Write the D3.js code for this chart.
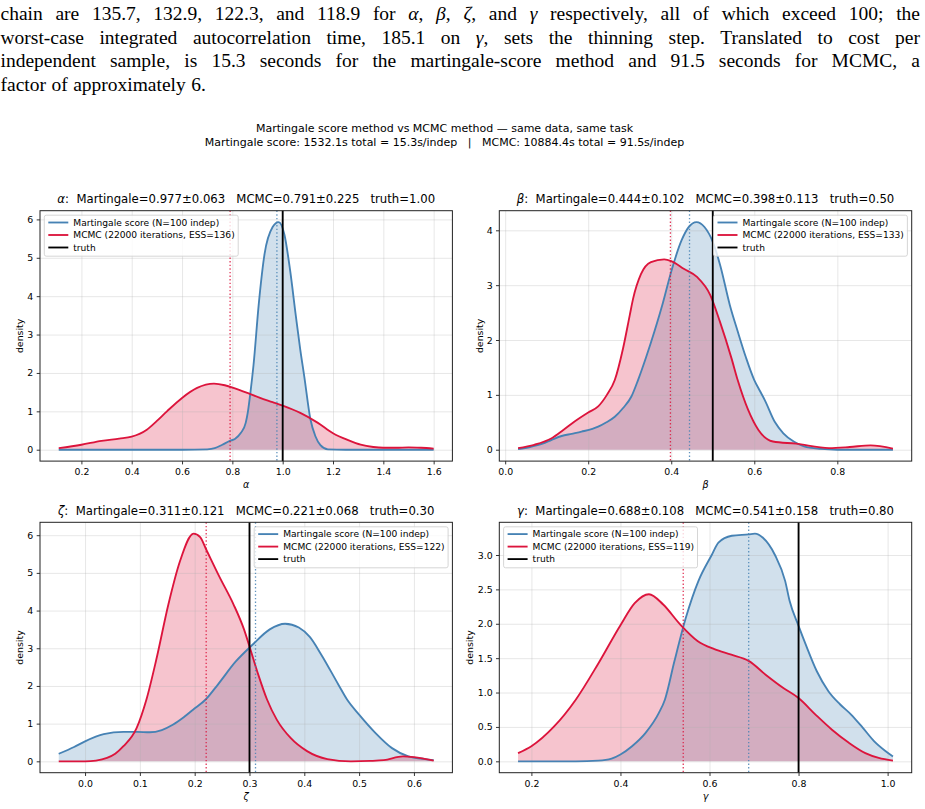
<!DOCTYPE html>
<html>
<head>
<meta charset="utf-8">
<script src="https://cdn.jsdelivr.net/npm/d3@7/dist/d3.min.js"></script>
<style>
body { margin: 0; background: #fff; }
svg text { font-family: "DejaVu Sans", sans-serif; fill: #000; white-space: pre; }
.para text { font-family: "Liberation Serif", serif; }
</style>
</head>
<body>
<div id="chart"></div>
<script>
// text of the paragraph above the figure
var paraLines = [
    "chain are 135.7, 132.9, 122.3, and 118.9 for α, β, ζ, and γ respectively, all of which exceed 100; the",
    "worst-case integrated autocorrelation time, 185.1 on γ, sets the thinning step. Translated to cost per",
    "independent sample, is 15.3 seconds for the martingale-score method and 91.5 seconds for MCMC, a",
    "factor of approximately 6."
];

var supTitle = [
    "Martingale score method vs MCMC method — same data, same task",
    "Martingale score: 1532.1s total = 15.3s/indep   |   MCMC: 10884.4s total = 91.5s/indep"
];

// per-parameter summary values
var paramNames = ["α", "β", "ζ", "γ"];
var martMean = [0.977, 0.444, 0.311, 0.688];
var martSd = [0.063, 0.102, 0.121, 0.108];
var mcmcMean = [0.791, 0.398, 0.221, 0.541];
var mcmcSd = [0.225, 0.113, 0.068, 0.158];
var truthVal = [1.00, 0.50, 0.30, 0.80];
var essVal = [136, 133, 122, 119];

// tick labels
var xTickVals = [
    [0.2, 0.4, 0.6, 0.8, 1.0, 1.2, 1.4, 1.6],
    [0.0, 0.2, 0.4, 0.6, 0.8],
    [0.0, 0.1, 0.2, 0.3, 0.4, 0.5, 0.6],
    [0.2, 0.4, 0.6, 0.8, 1.0]
];
var yTickVals = [
    [0, 1, 2, 3, 4, 5, 6],
    [0, 1, 2, 3, 4],
    [0, 1, 2, 3, 4, 5, 6],
    [0.0, 0.5, 1.0, 1.5, 2.0, 2.5, 3.0]
];

// density curves
var alphaMartX = [0.11, 0.40, 0.60, 0.70, 0.73, 0.76, 0.79, 0.81, 0.834, 0.853, 0.862, 0.872, 0.884, 0.905, 0.928, 0.96, 0.984, 1.007, 1.03, 1.052, 1.07, 1.086, 1.11, 1.13, 1.15, 1.18, 1.25, 1.40, 1.60];
var alphaMartY = [0, 0, 0, 0.01, 0.04, 0.13, 0.23, 0.28, 0.44, 0.70, 1.0, 1.5, 2.2, 3.8, 5.1, 5.8, 5.93, 5.6, 4.65, 3.5, 2.6, 1.9, 0.8, 0.35, 0.12, 0.01, 0, 0, 0];
var alphaMcmcX = [0.11, 0.2, 0.28, 0.35, 0.40, 0.46, 0.50, 0.54, 0.60, 0.66, 0.727, 0.77, 0.81, 0.86, 0.91, 0.96, 1.00, 1.07, 1.14, 1.20, 1.26, 1.31, 1.36, 1.40, 1.45, 1.50, 1.55, 1.60];
var alphaMcmcY = [0.04, 0.13, 0.23, 0.29, 0.34, 0.52, 0.75, 1.0, 1.35, 1.61, 1.72, 1.68, 1.6, 1.48, 1.35, 1.24, 1.15, 0.96, 0.7, 0.43, 0.25, 0.13, 0.07, 0.05, 0.05, 0.06, 0.05, 0.03];

var betaMartX = [0.031, 0.06, 0.09, 0.112, 0.136, 0.16, 0.184, 0.21, 0.224, 0.244, 0.264, 0.284, 0.304, 0.32, 0.34, 0.36, 0.38, 0.40, 0.425, 0.441, 0.461, 0.48, 0.50, 0.518, 0.541, 0.56, 0.58, 0.60, 0.613, 0.625, 0.65, 0.67, 0.695, 0.72, 0.76, 0.80, 0.934];
var betaMartY = [0.01, 0.05, 0.11, 0.18, 0.25, 0.29, 0.33, 0.38, 0.42, 0.5, 0.6, 0.76, 0.97, 1.27, 1.7, 2.17, 2.68, 3.25, 3.82, 4.05, 4.15, 4.06, 3.79, 3.36, 2.64, 2.16, 1.68, 1.27, 1.08, 0.91, 0.5, 0.3, 0.15, 0.06, 0.015, 0, 0];
var betaMcmcX = [0.031, 0.07, 0.112, 0.14, 0.168, 0.2, 0.224, 0.245, 0.264, 0.284, 0.30, 0.308, 0.327, 0.351, 0.383, 0.40, 0.43, 0.462, 0.494, 0.517, 0.545, 0.56, 0.585, 0.61, 0.645, 0.70, 0.78, 0.83, 0.88, 0.934];
var betaMcmcY = [0.03, 0.09, 0.21, 0.36, 0.52, 0.68, 0.79, 1.0, 1.27, 1.85, 2.45, 2.75, 3.2, 3.42, 3.47, 3.44, 3.3, 3.15, 2.82, 2.34, 1.67, 1.27, 0.73, 0.36, 0.15, 0.11, 0.03, 0.05, 0.08, 0.02];

var zetaMartX = [-0.048, -0.02, 0.0, 0.034, 0.07, 0.095, 0.118, 0.14, 0.16, 0.18, 0.197, 0.22, 0.243, 0.275, 0.306, 0.337, 0.365, 0.39, 0.41, 0.431, 0.462, 0.478, 0.50, 0.53, 0.56, 0.59, 0.62, 0.636];
var zetaMartY = [0.2, 0.38, 0.53, 0.72, 0.78, 0.78, 0.77, 0.83, 0.97, 1.17, 1.37, 1.64, 2.05, 2.65, 3.1, 3.5, 3.65, 3.55, 3.3, 2.83, 2.04, 1.64, 1.24, 0.75, 0.35, 0.13, 0.06, 0.03];
var zetaMcmcX = [-0.048, 0.0, 0.02, 0.04, 0.055, 0.07, 0.094, 0.112, 0.13, 0.152, 0.173, 0.198, 0.21, 0.221, 0.245, 0.271, 0.29, 0.301, 0.316, 0.332, 0.35, 0.375, 0.405, 0.442, 0.485, 0.52, 0.545, 0.58, 0.60, 0.636];
var zetaMcmcY = [0, 0, 0.02, 0.09, 0.2, 0.4, 0.88, 1.64, 2.7, 4.16, 5.3, 6.04, 5.95, 5.62, 4.9, 4.16, 3.5, 3.0, 2.3, 1.64, 1.1, 0.62, 0.27, 0.06, 0.0, 0.01, 0.03, 0.13, 0.11, 0.02];

var gammaMartX = [0.17, 0.30, 0.35, 0.38, 0.40, 0.426, 0.456, 0.486, 0.50, 0.521, 0.547, 0.575, 0.605, 0.62, 0.65, 0.688, 0.702, 0.72, 0.747, 0.77, 0.78, 0.80, 0.816, 0.841, 0.867, 0.893, 0.918, 0.944, 0.97, 0.995, 1.012];
var gammaMartY = [0, 0, 0.01, 0.04, 0.1, 0.22, 0.41, 0.7, 0.9, 1.45, 2.09, 2.62, 3.0, 3.18, 3.28, 3.3, 3.31, 3.25, 3.0, 2.62, 2.33, 1.97, 1.7, 1.31, 1.02, 0.83, 0.68, 0.49, 0.29, 0.15, 0.07];
var gammaMcmcX = [0.17, 0.20, 0.25, 0.30, 0.35, 0.40, 0.432, 0.464, 0.496, 0.534, 0.573, 0.611, 0.649, 0.688, 0.726, 0.765, 0.80, 0.838, 0.875, 0.913, 0.95, 0.98, 1.012];
var gammaMcmcY = [0.12, 0.22, 0.5, 0.9, 1.42, 1.98, 2.3, 2.43, 2.28, 1.99, 1.75, 1.63, 1.55, 1.46, 1.26, 1.07, 0.92, 0.68, 0.46, 0.27, 0.12, 0.05, 0.01];

var martCurves = [[alphaMartX, alphaMartY], [betaMartX, betaMartY], [zetaMartX, zetaMartY], [gammaMartX, gammaMartY]];
var mcmcCurves = [[alphaMcmcX, alphaMcmcY], [betaMcmcX, betaMcmcY], [zetaMcmcX, zetaMcmcY], [gammaMcmcX, gammaMcmcY]];

// layout
var W = 925, H = 809;
var blue = "#4682b4", red = "#dc143c";
var pw = 412.4, ph = 250.4;
var panels = [
    { left: 40, top: 210.7, legend: "left", ylab: 20.5 },
    { left: 499.3, top: 210.7, legend: "right", ylab: 19.5 },
    { left: 40, top: 522.3, legend: "right", ylab: 20.5 },
    { left: 499.3, top: 522.3, legend: "left", ylab: 30 }
];

var svg = d3.select("#chart")
    .append("svg")
    .attr("width", W)
    .attr("height", H);

svg.append("rect").attr("width", W).attr("height", H).attr("fill", "#fff");

// writes a string, greek letters in italic
function addMath(sel, str) {
    str.split(/([α-ω])/).forEach(function (s) {
        if (s === "") return;
        var t = sel.append("tspan").text(s);
        if (/[α-ω]/.test(s)) t.style("font-style", "italic");
    });
}

// paragraph, justified like the latex page
var para = svg.append("g").attr("class", "para");
var paraLeft = 0.5, paraRight = 920, paraFont = 19.5;
var paraBase = [20, 43.5, 67, 90.5];

paraLines.forEach(function (line, li) {
    var words = line.split(" ");
    var nodes = words.map(function (w) {
        var t = para.append("text")
            .attr("y", paraBase[li])
            .style("font-size", paraFont + "px");
        addMath(t, w);
        return t;
    });
    var widths = nodes.map(function (t) { return t.node().getComputedTextLength(); });
    var gap = paraFont * 0.28;
    if (li < paraLines.length - 1) gap = (paraRight - paraLeft - d3.sum(widths)) / (words.length - 1);
    var xp = paraLeft;
    nodes.forEach(function (t, k) { t.attr("x", xp); xp += widths[k] + gap; });
});

// figure title
svg.selectAll(".suptitle")
    .data(supTitle)
    .enter()
    .append("text")
    .attr("class", "suptitle")
    .attr("x", 444.5)
    .attr("y", function (d, i) { return 132.3 + i * 13.7; })
    .attr("text-anchor", "middle")
    .style("font-size", "11px")
    .text(function (d) { return d; });

function drawPanel(p, i) {
    var g = svg.append("g")
        .attr("transform", "translate(" + p.left + "," + p.top + ")");

    var mx = martCurves[i][0], my = martCurves[i][1];
    var cx = mcmcCurves[i][0], cy = mcmcCurves[i][1];

    // matplotlib style 5% margins
    var allX = mx.concat(cx);
    var xMin = d3.min(allX), xMax = d3.max(allX), xPad = (xMax - xMin) * 0.05;
    var yMax = d3.max(my.concat(cy));
    var x = d3.scaleLinear().domain([xMin - xPad, xMax + xPad]).range([0, pw]);
    var y = d3.scaleLinear().domain([-yMax * 0.05, yMax * 1.05]).range([ph, 0]);

    var martPts = mx.map(function (v, k) { return [v, my[k]]; });
    var mcmcPts = cx.map(function (v, k) { return [v, cy[k]]; });

    var area = d3.area()
        .x(function (d) { return x(d[0]); })
        .y0(y(0))
        .y1(function (d) { return y(d[1]); })
        .curve(d3.curveMonotoneX);
    var line = d3.line()
        .x(function (d) { return x(d[0]); })
        .y(function (d) { return y(d[1]); })
        .curve(d3.curveMonotoneX);

    // filled densities
    g.append("path").datum(martPts).attr("d", area).attr("fill", blue).attr("fill-opacity", 0.25);
    g.append("path").datum(mcmcPts).attr("d", area).attr("fill", red).attr("fill-opacity", 0.25);

    // grid lines
    g.append("g")
        .attr("class", "grid")
        .attr("transform", "translate(0," + ph + ")")
        .call(d3.axisBottom(x).tickValues(xTickVals[i]).tickSize(-ph).tickFormat(""));
    g.append("g")
        .attr("class", "grid")
        .call(d3.axisLeft(y).tickValues(yTickVals[i]).tickSize(-pw).tickFormat(""));
    g.selectAll(".grid .domain").remove();
    g.selectAll(".grid line").attr("stroke", "#b0b0b0").attr("stroke-opacity", 0.3).attr("stroke-width", 1);

    // curves
    g.append("path").datum(martPts).attr("d", line)
        .attr("fill", "none").attr("stroke", blue).attr("stroke-width", 1.85);
    g.append("path").datum(mcmcPts).attr("d", line)
        .attr("fill", "none").attr("stroke", red).attr("stroke-width", 1.85);

    // truth and mean lines
    g.append("line")
        .attr("x1", x(truthVal[i])).attr("x2", x(truthVal[i]))
        .attr("y1", 0).attr("y2", ph)
        .attr("stroke", "#000").attr("stroke-width", 1.85);
    [[martMean[i], blue], [mcmcMean[i], red]].forEach(function (m) {
        g.append("line")
            .attr("x1", x(m[0])).attr("x2", x(m[0]))
            .attr("y1", 0).attr("y2", ph)
            .attr("stroke", m[1]).attr("stroke-width", 1.3)
            .attr("stroke-opacity", 0.85)
            .attr("stroke-dasharray", "1.4,2.2");
    });

    // axes
    g.append("g")
        .attr("class", "axis")
        .attr("transform", "translate(0," + ph + ")")
        .call(d3.axisBottom(x).tickValues(xTickVals[i]).tickSize(3.3).tickPadding(4.2).tickFormat(d3.format(".1f")));
    g.append("g")
        .attr("class", "axis")
        .call(d3.axisLeft(y).tickValues(yTickVals[i]).tickSize(3.3).tickPadding(3.4)
            .tickFormat(i == 3 ? d3.format(".1f") : d3.format("d")));
    g.selectAll(".axis .domain").remove();
    g.selectAll(".axis line").attr("stroke", "#000").attr("stroke-width", 0.8);
    g.selectAll(".axis text").style("font-size", "9.4px").style("font-family", "DejaVu Sans").attr("fill", "#000");

    // frame
    g.append("rect")
        .attr("width", pw).attr("height", ph)
        .attr("fill", "none").attr("stroke", "#222").attr("stroke-width", 1);

    // title
    var title = g.append("text")
        .attr("x", pw / 2)
        .attr("y", -7.4)
        .attr("text-anchor", "middle")
        .style("font-size", "11.7px");
    addMath(title, paramNames[i] + ":  Martingale=" + martMean[i].toFixed(3) + "±" + martSd[i].toFixed(3) +
        "   MCMC=" + mcmcMean[i].toFixed(3) + "±" + mcmcSd[i].toFixed(3) +
        "   truth=" + truthVal[i].toFixed(2));

    // axis labels
    var xl = g.append("text")
        .attr("x", pw / 2)
        .attr("y", ph + 27.3)
        .attr("text-anchor", "middle")
        .style("font-size", "9.6px");
    addMath(xl, paramNames[i]);
    g.append("text")
        .attr("transform", "translate(" + (-p.ylab) + "," + ph / 2 + ") rotate(-90)")
        .attr("text-anchor", "middle")
        .attr("dy", "0.35em")
        .style("font-size", "9.4px")
        .text("density");

    // legend
    var labels = [
        ["Martingale score (N=100 indep)", blue],
        ["MCMC (22000 iterations, ESS=" + essVal[i] + ")", red],
        ["truth", "#000"]
    ];
    var lg = g.append("g");
    var box = lg.append("rect");
    var items = lg.selectAll(".item")
        .data(labels)
        .enter()
        .append("g")
        .attr("class", "item")
        .attr("transform", function (d, k) { return "translate(0," + (7.3 + k * 12.5) + ")"; });
    items.append("line")
        .attr("x1", 4).attr("x2", 24)
        .attr("stroke", function (d) { return d[1]; })
        .attr("stroke-width", 1.85);
    var texts = items.append("text")
        .attr("x", 29)
        .attr("dy", "0.35em")
        .style("font-size", "9.1px")
        .text(function (d) { return d[0]; });
    var tw = d3.max(texts.nodes(), function (n) { return n.getComputedTextLength(); });
    var bw = 29 + tw + 3.5, bh = 41;
    box.attr("width", bw).attr("height", bh).attr("rx", 2)
        .attr("fill", "#fff").attr("fill-opacity", 0.8)
        .attr("stroke", "#cccccc").attr("stroke-width", 0.8);
    var lx = p.legend == "left" ? 4.3 : pw - 4.3 - bw;
    lg.attr("transform", "translate(" + lx + ",4.5)");
}

panels.forEach(drawPanel);
</script>
</body>
</html>
